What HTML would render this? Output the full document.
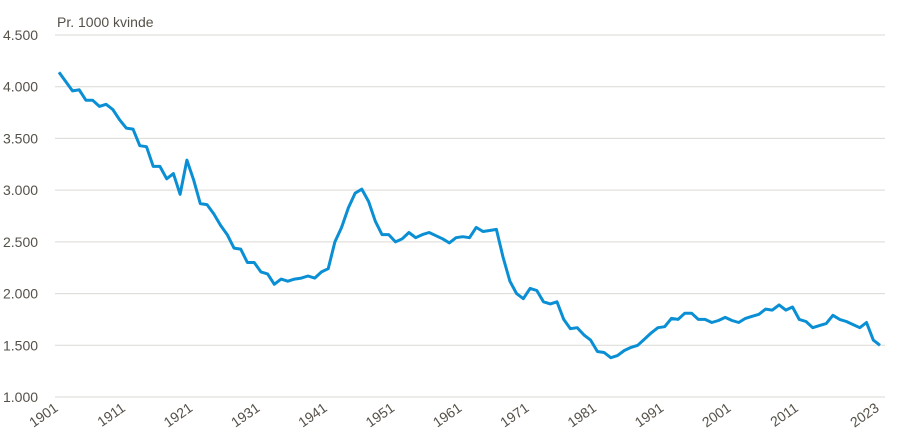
<!DOCTYPE html>
<html><head><meta charset="utf-8"><style>
body{margin:0;background:#fff;}
svg{display:block;font-family:"Liberation Sans",sans-serif;}
</style></head><body>
<svg id="chart" width="905" height="448">
<text x="57" y="27" font-size="14" fill="#555049">Pr. 1000 kvinde</text>
<g id="grid"></g><g id="ylab"></g><g id="xlab"></g><g id="series"></g>
</svg>
<script>
const years = [];
for (let y = 1901; y <= 2023; y++) years.push(y);
const values = [4140,4050,3960,3970,3870,3870,3810,3830,3780,3680,3600,3590,3430,3420,3230,3230,3110,3160,2960,3290,3100,2870,2860,2770,2660,2570,2440,2430,2300,2300,2210,2190,2090,2140,2120,2140,2150,2170,2150,2210,2240,2500,2640,2830,2970,3010,2890,2700,2570,2570,2500,2530,2590,2540,2570,2590,2560,2530,2490,2540,2550,2540,2640,2600,2610,2620,2350,2120,2000,1950,2050,2030,1920,1900,1920,1750,1660,1670,1600,1550,1440,1430,1380,1400,1450,1480,1500,1560,1620,1670,1680,1760,1750,1810,1810,1750,1750,1720,1740,1770,1740,1720,1760,1780,1800,1850,1840,1890,1840,1870,1750,1730,1670,1690,1710,1790,1750,1730,1700,1670,1720,1550,1500];
const yTicks = [1000,1500,2000,2500,3000,3500,4000,4500];
const yTickLabels = ["1.000","1.500","2.000","2.500","3.000","3.500","4.000","4.500"];
const xTicks = [1901,1911,1921,1931,1941,1951,1961,1971,1981,1991,2001,2011,2023];

const NS="http://www.w3.org/2000/svg";
const xS = y => 59 + (y-1901)*(880-59)/(2023-1901);
const yS = v => 397 - (v-1000)*(397-35)/3500;
function mk(tag, attrs, parent){const e=document.createElementNS(NS,tag);for(const k in attrs)e.setAttribute(k,attrs[k]);parent.appendChild(e);return e;}
const grid=document.getElementById('grid'), ylab=document.getElementById('ylab'), xlab=document.getElementById('xlab'), series=document.getElementById('series');
yTicks.forEach((v,i)=>{
  const l=mk('line',{x1:55,x2:885,y1:yS(v),y2:yS(v),stroke:'#dcd9d3','stroke-width':1},grid);
  
  
  const t=mk('text',{x:3,y:yS(v)+5,'font-size':14,fill:'#555049'},ylab);
  t.textContent=yTickLabels[i];
  
  
});
xTicks.forEach(yr=>{
  const x=xS(yr), y=410;
  const t=mk('text',{x:x,y:y,'font-size':14,fill:'#555049','text-anchor':'end',transform:`rotate(-35 ${x} ${y})`},xlab);
  t.textContent=String(yr);
  
  
});
const pts=years.map((yr,i)=>xS(yr).toFixed(1)+','+yS(values[i]).toFixed(1)).join(' ');
const pl=mk('polyline',{points:pts,fill:'none',stroke:'#0a8fd4','stroke-width':3,'stroke-linejoin':'round'},series);


</script>
</body></html>
